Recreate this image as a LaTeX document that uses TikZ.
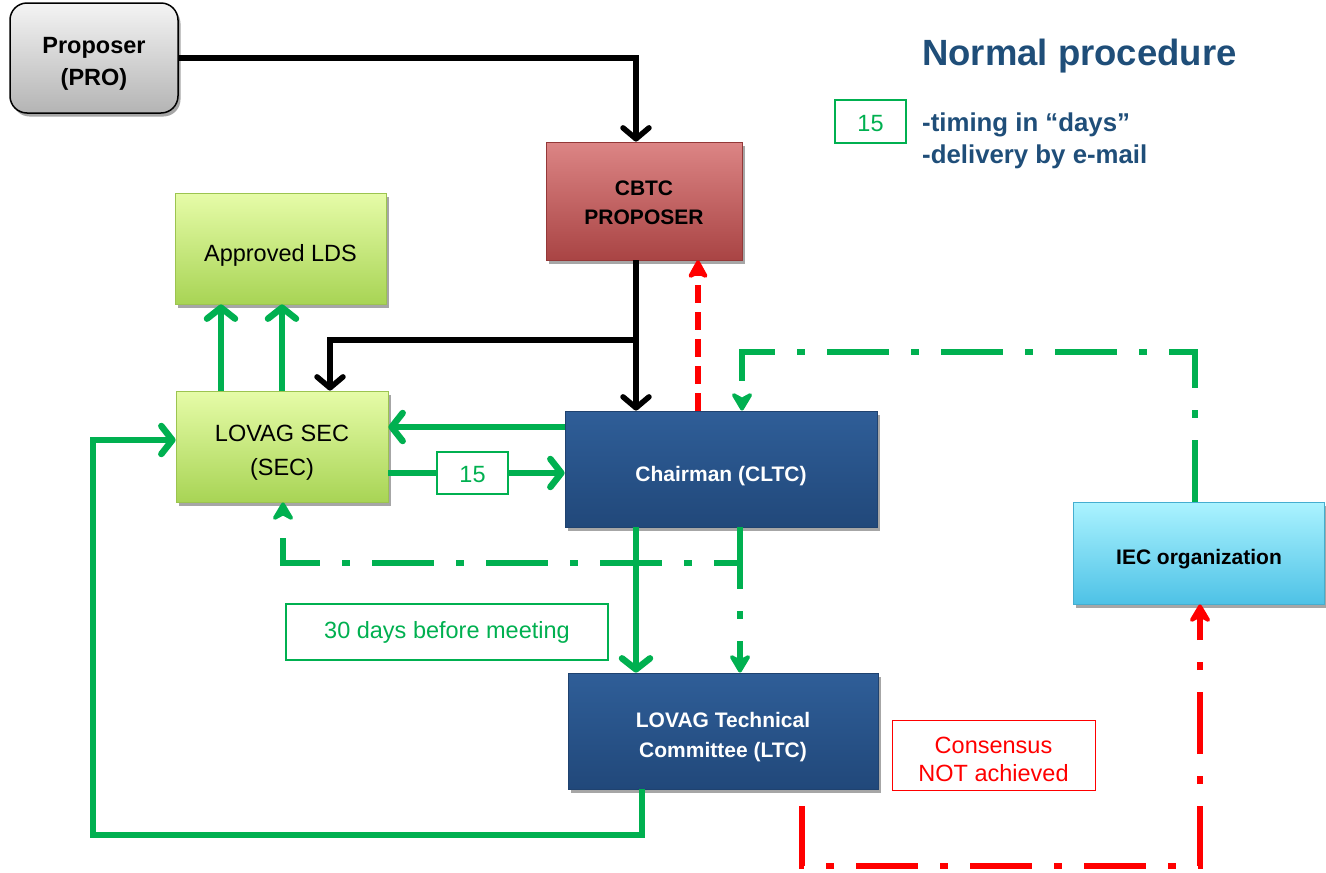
\documentclass[tikz,border=0pt]{standalone}
\usepackage{fontspec}
\setmainfont{Liberation Sans}
\usetikzlibrary{arrows.meta,shadows,calc}
\definecolor{gline}{HTML}{00B050}
\definecolor{rline}{HTML}{FF0000}
\definecolor{navy}{HTML}{27538B}
\definecolor{navytop}{HTML}{2F5E98}
\definecolor{navybot}{HTML}{21487A}
\definecolor{legblue}{HTML}{1F4E79}
\definecolor{limetop}{HTML}{E6FCA8}
\definecolor{limebot}{HTML}{A8D455}
\definecolor{limeedge}{HTML}{9CC450}
\definecolor{redtop}{HTML}{DC8585}
\definecolor{redbot}{HTML}{A94444}
\definecolor{rededge}{HTML}{943838}
\definecolor{cyantop}{HTML}{ABF3FF}
\definecolor{cyanbot}{HTML}{4EC2E6}
\definecolor{cyanedge}{HTML}{45AED0}
\definecolor{graytop}{HTML}{F4F4F4}
\definecolor{graybot}{HTML}{B4B4B4}
% lower the printed text without changing the box metrics
\newcommand\lowtext[2][5pt]{\raisebox{-#1}[\height][\depth]{\begin{tabular}{@{}c@{}}#2\end{tabular}}}
\tikzset{
  shade/.style={drop shadow={shadow xshift=2.5pt,shadow yshift=-3.5pt,opacity=0.35,fill=black}},
  boxbase/.style={rectangle,shade,align=center,inner sep=2pt,line width=0.8pt},
  limebox/.style={boxbase,top color=limetop,bottom color=limebot,draw=limeedge,
     font=\fontsize{23.5}{34}\selectfont},
  redbox/.style={boxbase,top color=redtop,bottom color=redbot,draw=rededge,
     font=\fontsize{21}{29}\selectfont\bfseries},
  navybox/.style={boxbase,top color=navytop,bottom color=navybot,draw=navy!80!black,text=white,
     font=\fontsize{21}{30}\selectfont\bfseries},
  cyanbox/.style={boxbase,top color=cyantop,bottom color=cyanbot,draw=cyanedge,
     font=\fontsize{21}{29}\selectfont\bfseries},
  probox/.style={boxbase,rounded corners=17pt,top color=graytop,bottom color=graybot,draw=black,line width=1.5pt,
     font=\fontsize{23.5}{32}\selectfont\bfseries},
  gtag/.style={rectangle,draw=gline,fill=white,text=gline,line width=1.2pt,align=center,
     font=\fontsize{23.5}{28}\selectfont},
  rtag/.style={rectangle,draw=rline,fill=white,text=rline,line width=1pt,align=center,
     font=\fontsize{23.5}{28}\selectfont},
  gsolid/.style={draw=gline,line width=6.5pt,line join=miter,
     -{Straight Barb[length=11pt,width=28pt,round]}},
  bsolid/.style={draw=black,line width=5.5pt,line join=miter,
     -{Straight Barb[length=11pt,width=26pt,round]}},
  gdashdot/.style={draw=gline,line width=6.5pt,line join=miter,
     dash pattern=on 62pt off 22pt on 8pt off 22pt,
     -{Stealth[length=22pt,width=26pt,inset=7pt,round]}},
  rdashdot/.style={draw=rline,line width=6.5pt,line join=miter,
     dash pattern=on 62pt off 22pt on 8pt off 22pt,
     -{Stealth[length=22pt,width=26pt,inset=7pt,round]}},
  rdashed/.style={draw=rline,line width=6.5pt,
     dash pattern=on 18pt off 9pt,
     -{Stealth[length=22pt,width=24pt,inset=6pt,round]}},
}
\begin{document}
\begin{tikzpicture}[x=1pt,y=-1pt]
\useasboundingbox (0,0) rectangle (1326,873);

% nodes
\node[probox,minimum width=168pt,minimum height=110pt] (pro) at (94,58) {\lowtext{Proposer\\(PRO)}};
\node[redbox,minimum width=196pt,minimum height=118pt] (cbtc) at (644,201) {\lowtext[3pt]{CBTC\\PROPOSER}};
\node[limebox,minimum width=211pt,minimum height=111pt] (lds) at (280.5,248.5) {\lowtext[6pt]{Approved LDS}};
\node[limebox,minimum width=212pt,minimum height=111pt] (sec) at (282,446.5) {\lowtext{LOVAG SEC\\(SEC)}};
\node[navybox,minimum width=312pt,minimum height=116pt] (chair) at (721,469) {\lowtext[6pt]{Chairman (CLTC)}};
\node[cyanbox,minimum width=251pt,minimum height=102pt] (iec) at (1199,553) {\lowtext[6pt]{IEC organization}};
\node[navybox,minimum width=310pt,minimum height=116pt] (ltc) at (723,731) {\lowtext{LOVAG Technical\\Committee (LTC)}};
\node[gtag,minimum width=322pt,minimum height=56pt] (box30) at (447,632) {30 days before meeting};
\node[rtag,minimum width=203pt,minimum height=70pt] (cons) at (993.5,755) {\lowtext[7pt]{Consensus\\NOT achieved}};

% legend
\node[anchor=west,text=legblue,font=\fontsize{36.5}{40}\selectfont\bfseries,inner sep=0pt] (title) at (922,56) {Normal procedure};
\node[gtag,minimum width=71pt,minimum height=43pt] (leg15) at (870.5,121.5) {\lowtext[4pt]{15}};
\node[anchor=west,text=legblue,align=left,font=\fontsize{25.8}{32}\selectfont\bfseries,inner sep=0pt] (legtext) at (922,141) {-timing in “days”\\-delivery by e-mail};

% coordinates
\coordinate (bj) at (636,340);
\coordinate (rstart) at (802,806);

% black connectors
\draw[bsolid] (pro.east) -| (cbtc.north -| 636,0);
\draw[bsolid] (cbtc.south -| 636,0) -- (chair.north -| 636,0);
\draw[bsolid] (bj) -| (sec.north -| 330,0);

% green solid
\draw[gsolid] (sec.north -| 221,0) -- (lds.south -| 221,0);
\draw[gsolid] (sec.north -| 282,0) -- (lds.south -| 282,0);
\draw[gsolid] (chair.west |- 0,427) -- (sec.east |- 0,427);
\draw[gsolid] (sec.east |- 0,473) -- (chair.west |- 0,473);
\node[gtag,minimum width=71pt,minimum height=42pt] (t15) at (472.5,473) {\lowtext[4pt]{15}};
\draw[gsolid] (chair.south -| 636,0) -- (ltc.north -| 636,0);
\draw[gsolid] (ltc.south -| 642,0) -- (642,835) -| (93,440) -- (sec.west |- 0,440);

% green dash-dot
\draw[gdashdot] (iec.north -| 1195,0) |- (742,352) -- (chair.north -| 742,0);
\draw[gdashdot] (chair.south -| 740,0) -- (740,563) -| (sec.south -| 283,0);
\draw[gdashdot] (chair.south -| 740,0) -- (ltc.north -| 740,0);

% red
\draw[rdashed] (chair.north -| 698,0) -- (cbtc.south -| 698,0);
\draw[rdashdot] (rstart) -- (802,866) -| (iec.south -| 1200,0);
\end{tikzpicture}
\end{document}
